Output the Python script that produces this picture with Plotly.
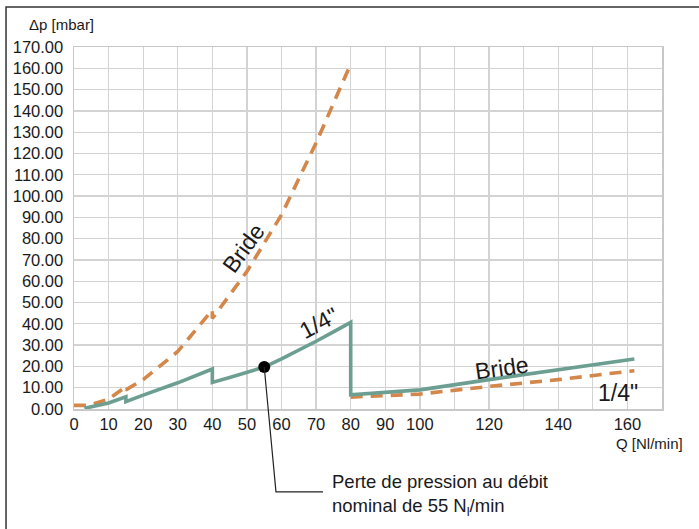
import plotly.graph_objects as go

# ---- data ----
green_x = [3, 10, 15, 15, 20, 30, 40, 40, 45, 50, 55, 60, 65, 70, 75, 80, 80, 90, 100, 120, 140, 162]
green_y = [0.3, 2.8, 5.7, 3.4, 6.5, 12.3, 18.8, 12.5, 14.8, 17.1, 19.7, 23.5, 27.5, 31.8, 36.2, 40.7,
           6.7, 7.9, 9.0, 13.8, 18.4, 23.5]

orange_x = [0, 4, 10, 15, 15, 20, 30, 40, 40, 50, 60, 70, 80, None, 80, 90, 100, 120, 140, 162]
orange_y = [1.7, 1.7, 4.6, 10.5, 9.0, 13.8, 27.0, 46.5, 42.5, 64.6, 91.2, 125.0, 162.0, None,
            5.6, 6.2, 7.0, 10.6, 13.8, 18.0]

nominal_q = 55
nominal_dp = 19.7

y_ticks = list(range(0, 171, 10))
x_ticks = list(range(0, 171, 10))
x_ticktext = ["0", "10", "20", "30", "40", "50", "60", "70", "80", "90", "100",
              "", "120", "", "140", "", "160", ""]

GREEN = "#6c9f92"
ORANGE = "#d4874a"
FONT = "Liberation Sans, Arial, Helvetica, sans-serif"

X_MAX = 170
Y_MAX = 170

fig = go.Figure()
fig.add_trace(go.Scatter(x=orange_x, y=orange_y, mode="lines", connectgaps=False,
                         line=dict(color=ORANGE, width=3.6, dash="12px,8px"),
                         hoverinfo="skip", showlegend=False))
fig.add_trace(go.Scatter(x=green_x, y=green_y, mode="lines",
                         line=dict(color=GREEN, width=3.6),
                         hoverinfo="skip", showlegend=False))
fig.add_trace(go.Scatter(x=[nominal_q], y=[nominal_dp], mode="markers",
                         marker=dict(color="black", size=12),
                         hoverinfo="skip", showlegend=False, cliponaxis=False))

# leader line from the dot (in paper coords derived from the data)
px0 = nominal_q / X_MAX
py0 = nominal_dp / Y_MAX
fig.add_shape(type="path", xref="paper", yref="paper",
              path=f"M {px0} {py0} L 0.3435 -0.229 L 0.4235 -0.229",
              line=dict(color="#222222", width=1.2))

# outer frame (left and top edges)
fig.add_shape(type="path", xref="paper", yref="paper",
              path="M -0.1156 -0.5 L -0.1156 1.1105 L 1.2 1.1105",
              line=dict(color="#333333", width=1.5))

ann_font = dict(family=FONT, size=23, color="#1a1a1a")
fig.add_annotation(x=49.1, y=75.4, text="Bride", showarrow=False, textangle=-54,
                   font=ann_font, xanchor="center", yanchor="middle")
fig.add_annotation(x=70.8, y=40.2, text="1/4\"", showarrow=False, textangle=-28,
                   font=ann_font, xanchor="center", yanchor="middle")
fig.add_annotation(x=123.6, y=19.2, text="Bride", showarrow=False, textangle=-8,
                   font=ann_font, xanchor="center", yanchor="middle")
fig.add_annotation(x=157.4, y=7.5, text="1/4\"", showarrow=False,
                   font=ann_font, xanchor="center", yanchor="middle")

fig.add_annotation(xref="paper", yref="paper", x=-0.08, y=1.0608, text="Δp [mbar]",
                   showarrow=False, xanchor="left", yanchor="middle",
                   font=dict(family=FONT, size=15, color="#1a1a1a"))
fig.add_annotation(xref="paper", yref="paper", x=1.039, y=-0.094, text="Q [Nl/min]",
                   showarrow=False, xanchor="right", yanchor="middle",
                   font=dict(family=FONT, size=15, color="#1a1a1a"))
fig.add_annotation(xref="paper", yref="paper", x=0.435, y=-0.2376,
                   text="Perte de pression au débit<br>nominal de 55 N<sub>l</sub>/min",
                   showarrow=False, xanchor="left", yanchor="middle", align="left",
                   font=dict(family=FONT, size=18.5, color="#1a1a1a"))

fig.update_layout(
    width=699, height=529,
    margin=dict(l=74, r=37, t=47, b=120),
    paper_bgcolor="white", plot_bgcolor="white",
    hovermode=False,
    xaxis=dict(range=[0, X_MAX], tickvals=x_ticks, ticktext=x_ticktext,
               showgrid=True, gridcolor="#d3d3d3", gridwidth=1.3,
               showline=True, linecolor="#c8c8c8", linewidth=1.5, mirror=True,
               zeroline=False, ticks="", ticklabelstandoff=0,
               tickfont=dict(family=FONT, size=16.5, color="#1a1a1a")),
    yaxis=dict(range=[0, Y_MAX], tickvals=y_ticks, tickformat=".2f",
               showgrid=True, gridcolor="#d3d3d3", gridwidth=1.3,
               showline=True, linecolor="#c8c8c8", linewidth=1.5, mirror=True,
               zeroline=False, ticks="", ticklabelstandoff=6,
               tickfont=dict(family=FONT, size=16.5, color="#1a1a1a")),
)

# remove the default 8px page margin so the figure sits at the window's corner
fig.write_html("out.html",
               config={"displayModeBar": False, "staticPlot": True},
               post_script="document.body.style.margin='0';document.body.style.overflow='hidden';")
